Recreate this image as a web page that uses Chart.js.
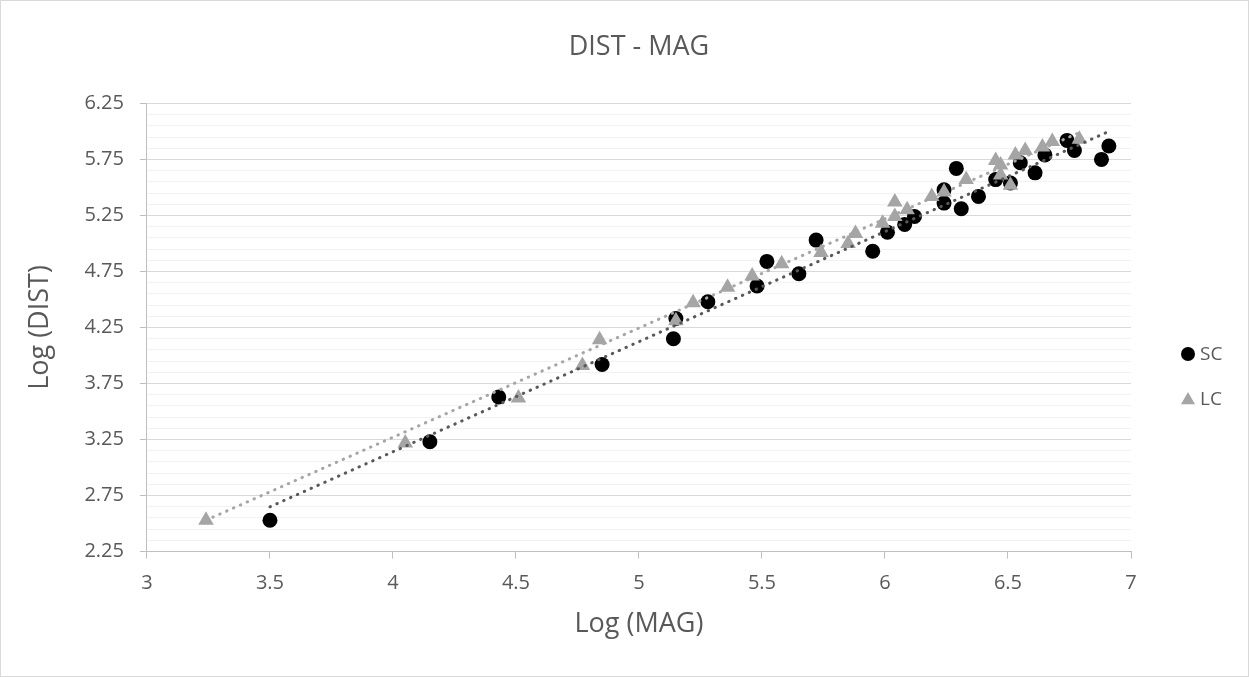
<!DOCTYPE html>
<html lang="en">
<head>
  <meta charset="UTF-8" />
  <title>DIST - MAG</title>
  <script src="https://cdn.jsdelivr.net/npm/chart.js"></script>
  <style>
    body {
      margin: 0;
      background: #fff;
      font-family: "Open Sans", sans-serif;
    }

    #wrap {
      position: relative;
      width: 1249px;
      height: 677px;
    }

    #frame {
      position: absolute;
      left: 0;
      top: 0;
      width: 1247px;
      height: 675px;
      border: 1px solid #d9d9d9;
      pointer-events: none;
    }

    .legend {
      position: absolute;
      left: 1181px;
      font-size: 19px;
      color: #595959;
      line-height: 24px;
    }

    .legend span.mark {
      display: inline-block;
      width: 14px;
      height: 14px;
      margin-right: 5px;
      vertical-align: -1px;
    }

    .dot { background: #000; border-radius: 50%; }
    .tri { background: #a5a5a5; clip-path: polygon(50% 0, 100% 88%, 0 88%); }
  </style>
</head>
<body>
  <div id="wrap">
    <canvas id="chart" width="1249" height="677"></canvas>
    <div class="legend" style="top: 341px;"><span class="mark dot"></span>SC</div>
    <div class="legend" style="top: 386px;"><span class="mark tri"></span>LC</div>
    <div id="frame"></div>
  </div>

  <script>
    // SC series (black circles)
    const scMag  = [3.50, 4.15, 4.43, 4.85, 5.14, 5.15, 5.28, 5.48, 5.52, 5.65, 5.72, 5.95, 6.01, 6.08, 6.12,
                    6.24, 6.24, 6.29, 6.31, 6.38, 6.45, 6.51, 6.55, 6.61, 6.65, 6.74, 6.77, 6.88, 6.91];
    const scDist = [2.53, 3.23, 3.63, 3.92, 4.15, 4.33, 4.48, 4.62, 4.84, 4.73, 5.03, 4.93, 5.10, 5.17, 5.24,
                    5.48, 5.36, 5.67, 5.31, 5.42, 5.57, 5.54, 5.72, 5.63, 5.79, 5.92, 5.83, 5.75, 5.87];

    // LC series (grey triangles)
    const lcMag  = [3.24, 4.05, 4.51, 4.77, 4.84, 5.15, 5.22, 5.36, 5.46, 5.58, 5.74, 5.85, 5.88, 5.99, 6.04,
                    6.04, 6.09, 6.19, 6.24, 6.33, 6.45, 6.47, 6.47, 6.51, 6.53, 6.57, 6.64, 6.68, 6.79];
    const lcDist = [2.53, 3.22, 3.62, 3.91, 4.14, 4.31, 4.47, 4.61, 4.71, 4.82, 4.92, 5.00, 5.09, 5.18, 5.37,
                    5.24, 5.30, 5.42, 5.46, 5.57, 5.74, 5.70, 5.61, 5.52, 5.79, 5.83, 5.86, 5.91, 5.93];

    // linear trendlines (end points)
    const scTrendMag  = [3.50, 6.91];
    const scTrendDist = [2.65, 6.00];
    const lcTrendMag  = [3.24, 6.79];
    const lcTrendDist = [2.53, 5.99];

    const xTicks = [3, 3.5, 4, 4.5, 5, 5.5, 6, 6.5, 7];
    const yMajorTicks = [2.25, 2.75, 3.25, 3.75, 4.25, 4.75, 5.25, 5.75, 6.25];
    const yMinorStep = 0.1;

    const toPoints = (xs, ys) => xs.map((x, i) => ({ x: x, y: ys[i] }));

    const isMajor = v => yMajorTicks.some(t => Math.abs(t - v) < 1e-6);

    const yTickValues = [];
    for (let v = yMajorTicks[0]; v <= yMajorTicks[yMajorTicks.length - 1] + 1e-6; v += yMinorStep) {
      yTickValues.push(Math.round(v * 100) / 100);
    }

    const font = { family: '"Open Sans", sans-serif' };

    new Chart(document.getElementById('chart'), {
      type: 'scatter',
      data: {
        datasets: [
          {
            label: 'SC trend',
            type: 'line',
            data: toPoints(scTrendMag, scTrendDist),
            borderColor: '#595959',
            borderWidth: 3,
            borderDash: [0.5, 7],
            borderCapStyle: 'round',
            pointRadius: 0,
            fill: false
          },
          {
            label: 'LC trend',
            type: 'line',
            data: toPoints(lcTrendMag, lcTrendDist),
            borderColor: '#a6a6a6',
            borderWidth: 3,
            borderDash: [0.5, 7],
            borderCapStyle: 'round',
            pointRadius: 0,
            fill: false
          },
          {
            label: 'LC',
            data: toPoints(lcMag, lcDist),
            pointStyle: 'triangle',
            pointRadius: 9,
            pointBorderWidth: 0,
            backgroundColor: '#a5a5a5',
            borderColor: '#a5a5a5'
          },
          {
            label: 'SC',
            data: toPoints(scMag, scDist),
            pointStyle: 'circle',
            pointRadius: 7.5,
            pointBorderWidth: 0,
            backgroundColor: '#000000',
            borderColor: '#000000'
          }
        ]
      },
      options: {
        responsive: false,
        animation: false,
        layout: { padding: { left: 10, right: 118, top: 10, bottom: 34 } },
        plugins: {
          legend: { display: false },
          tooltip: { enabled: false },
          title: {
            display: true,
            fullSize: false,
            text: 'DIST - MAG',
            color: '#595959',
            font: { ...font, size: 27, weight: 'normal' },
            padding: { top: 21, bottom: 40 }
          }
        },
        scales: {
          x: {
            type: 'linear',
            min: 3,
            max: 7,
            afterBuildTicks: axis => { axis.ticks = xTicks.map(v => ({ value: v })); },
            ticks: {
              color: '#595959',
              font: { ...font, size: 20 },
              padding: 13,
              autoSkip: false,
              maxRotation: 0,
              callback: v => String(v)
            },
            grid: { drawOnChartArea: false, drawTicks: true, tickLength: 7, tickColor: '#bfbfbf' },
            border: { color: '#bfbfbf', width: 1 },
            title: {
              display: true,
              text: 'Log (MAG)',
              color: '#595959',
              font: { ...font, size: 27 },
              padding: { top: 0, bottom: 2 }
            }
          },
          y: {
            type: 'linear',
            min: 2.25,
            max: 6.25,
            afterBuildTicks: axis => { axis.ticks = yTickValues.map(v => ({ value: v })); },
            ticks: {
              color: '#595959',
              font: { ...font, size: 20 },
              padding: 16,
              autoSkip: false,
              callback: v => isMajor(v) ? v.toFixed(2) : ''
            },
            grid: {
              color: c => (c.tick && isMajor(c.tick.value)) ? '#d9d9d9' : '#f2f2f2',
              tickColor: c => (c.tick && isMajor(c.tick.value)) ? '#bfbfbf' : 'rgba(0,0,0,0)',
              tickLength: 7
            },
            border: { color: '#bfbfbf', width: 1 },
            title: {
              display: true,
              text: 'Log (DIST)',
              color: '#595959',
              font: { ...font, size: 27 },
              padding: { top: 14, bottom: 12 }
            }
          }
        }
      }
    });
  </script>
</body>
</html>
